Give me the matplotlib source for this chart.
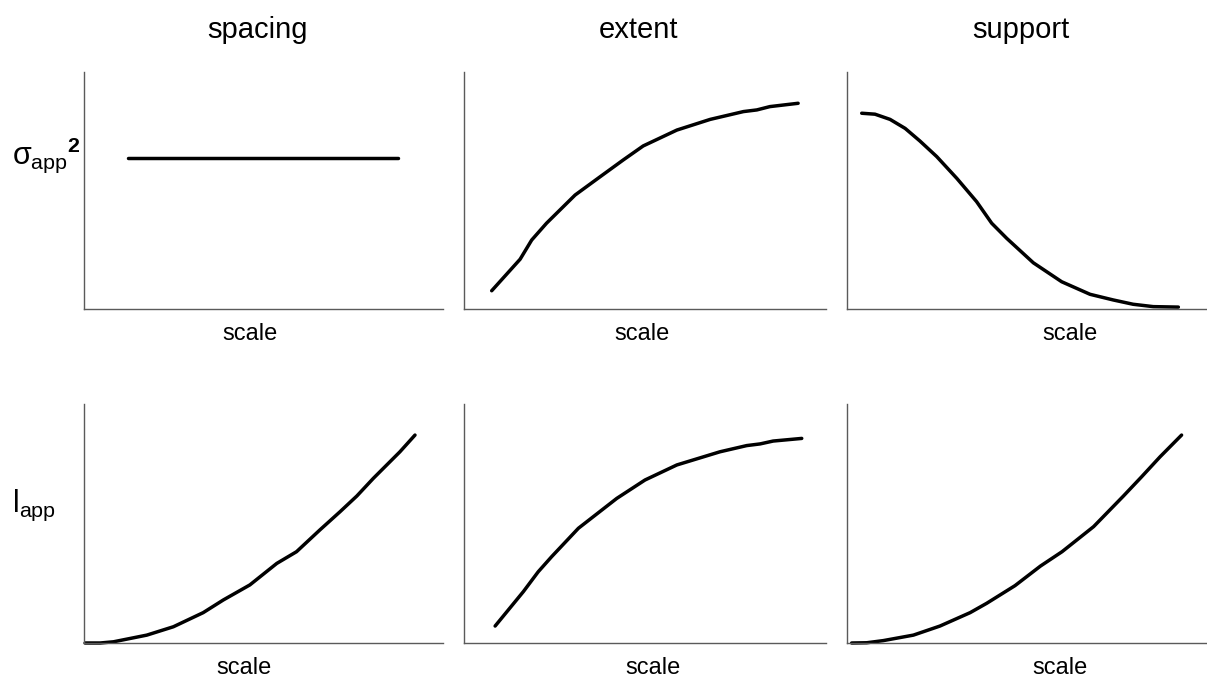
import matplotlib
matplotlib.use("Agg")
import matplotlib.pyplot as plt

plt.rcParams["font.family"] = ["Liberation Sans", "DejaVu Sans"]
plt.rcParams["mathtext.fontset"] = "custom"
plt.rcParams["mathtext.rm"] = "Liberation Sans"
plt.rcParams["mathtext.it"] = "Liberation Sans"
plt.rcParams["mathtext.bf"] = "Liberation Sans:bold"

columns = ["spacing", "extent", "support"]
row_labels = [r"$\sigma_{\mathrm{app}}{}^{\mathbf{2}}$", r"$\mathrm{l}_{\mathrm{app}}$"]
x_label = "scale"

# apparent variance vs scale
spacing_var_x = [0.123, 0.875]
spacing_var_y = [0.637, 0.637]

extent_var_x = [0.0765, 0.155, 0.187, 0.228, 0.307, 0.376, 0.440, 0.495,
                0.588, 0.680, 0.772, 0.809, 0.845, 0.923]
extent_var_y = [0.077, 0.210, 0.291, 0.362, 0.481, 0.558, 0.629, 0.688,
                0.755, 0.800, 0.833, 0.840, 0.854, 0.868]

support_var_x = [0.041, 0.078, 0.120, 0.162, 0.203, 0.250, 0.306, 0.361,
                 0.403, 0.445, 0.519, 0.598, 0.677, 0.742, 0.797, 0.853, 0.923]
support_var_y = [0.826, 0.822, 0.800, 0.762, 0.709, 0.643, 0.551, 0.453,
                 0.362, 0.298, 0.195, 0.115, 0.062, 0.038, 0.020, 0.010, 0.008]

# apparent range vs scale
spacing_rng_x = [0.003, 0.045, 0.082, 0.175, 0.249, 0.332, 0.388, 0.462,
                 0.537, 0.592, 0.657, 0.713, 0.760, 0.806, 0.880, 0.922]
spacing_rng_y = [0.0, 0.0, 0.005, 0.033, 0.068, 0.127, 0.180, 0.243,
                 0.333, 0.382, 0.473, 0.549, 0.615, 0.689, 0.800, 0.870]

extent_rng_x = [0.086, 0.164, 0.205, 0.242, 0.316, 0.422, 0.500, 0.588,
                0.707, 0.781, 0.818, 0.854, 0.933]
extent_rng_y = [0.071, 0.215, 0.298, 0.361, 0.480, 0.605, 0.682, 0.745,
                0.800, 0.826, 0.833, 0.845, 0.856]

support_rng_x = [0.013, 0.055, 0.101, 0.185, 0.259, 0.343, 0.389, 0.468,
                 0.539, 0.599, 0.687, 0.770, 0.821, 0.872, 0.932]
support_rng_y = [0.0, 0.001, 0.010, 0.033, 0.071, 0.127, 0.166, 0.240,
                 0.322, 0.382, 0.487, 0.615, 0.696, 0.779, 0.870]

curves = [
    [(spacing_var_x, spacing_var_y), (extent_var_x, extent_var_y), (support_var_x, support_var_y)],
    [(spacing_rng_x, spacing_rng_y), (extent_rng_x, extent_rng_y), (support_rng_x, support_rng_y)],
]

W, H = 1207, 677
fig = plt.figure(figsize=(W / 100, H / 100), dpi=100)

# panel boxes in pixels: (left, right) per column, (top, bottom) per row
col_px = [(84, 443), (464, 826), (847, 1206)]
row_px = [(72, 309), (404, 643)]
xlabel_pos = [[0.462, 0.492, 0.621], [0.446, 0.521, 0.593]]

spine_color = "#5a5a5a"
for r in range(2):
    top, bot = row_px[r]
    for c in range(3):
        left, right = col_px[c]
        ax = fig.add_axes([left / W, 1 - bot / H, (right - left) / W, (bot - top) / H])
        x, y = curves[r][c]
        ax.plot(x, y, color="black", lw=2.5, solid_capstyle="round",
                solid_joinstyle="round", clip_on=False)
        ax.set_xlim(0, 1)
        ax.set_ylim(0, 1)
        ax.set_xticks([])
        ax.set_yticks([])
        for side in ("top", "right"):
            ax.spines[side].set_visible(False)
        for side in ("left", "bottom"):
            ax.spines[side].set_color(spine_color)
            ax.spines[side].set_linewidth(1.0)
        ax.text(xlabel_pos[r][c], -0.105, x_label, transform=ax.transAxes,
                ha="center", va="center", fontsize=17)
        if r == 0:
            fig.text(((left + right) / 2 - 6) / W, 1 - 30 / H, columns[c],
                     ha="center", va="center", fontsize=21)

fig.text(12 / W, 1 - 155 / H, row_labels[0], ha="left", va="center", fontsize=22)
fig.text(12 / W, 1 - 505 / H, row_labels[1], ha="left", va="center", fontsize=22)

fig.savefig("out.png", dpi=100)
